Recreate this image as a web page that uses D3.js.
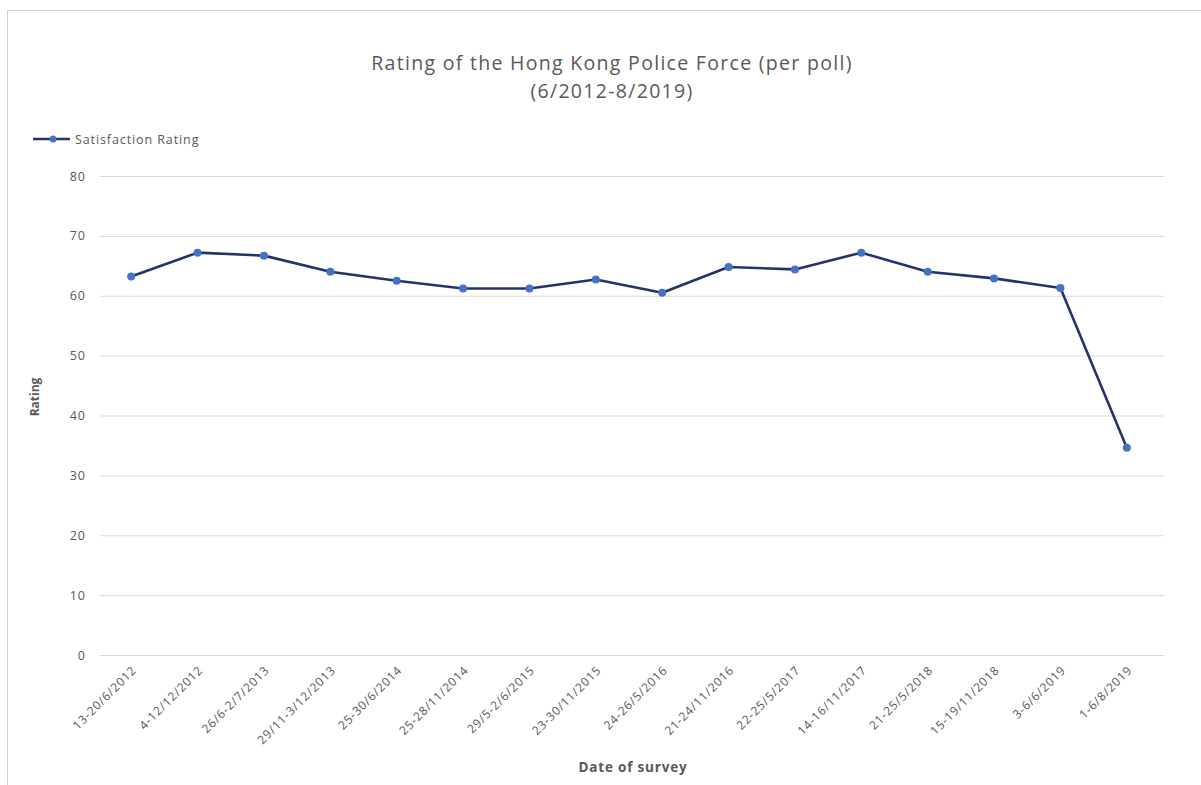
<!DOCTYPE html>
<html><head><meta charset="utf-8">
<script src="https://cdn.jsdelivr.net/npm/d3@7"></script>
<style>
html,body{margin:0;padding:0;background:#fff;}
svg text{font-family:"Open Sans",sans-serif;}
</style></head>
<body><svg id="chart" width="1201" height="785"></svg>
<script>
const categories = ["13-20/6/2012","4-12/12/2012","26/6-2/7/2013","29/11-3/12/2013","25-30/6/2014","25-28/11/2014","29/5-2/6/2015","23-30/11/2015","24-26/5/2016","21-24/11/2016","22-25/5/2017","14-16/11/2017","21-25/5/2018","15-19/11/2018","3-6/6/2019","1-6/8/2019"];
const ratings = [63.2,67.2,66.7,64.0,62.5,61.2,61.2,62.7,60.5,64.8,64.4,67.2,64.0,62.9,61.3,34.6];
const yTicks = [0,10,20,30,40,50,60,70,80];
const seriesName = "Satisfaction Rating";
const titleLines = ["Rating of the Hong Kong Police Force (per poll)","(6/2012-8/2019)"];

(function(){
const svg = d3.select("#chart");
const textColor = "#595959";

// outer chart border
svg.append("rect").attr("x",7.5).attr("y",10.5).attr("width",1210).attr("height",800)
  .attr("fill","none").attr("stroke","#d0d0d0");

const pLeft = 98, pRight = 1160, pTop = 176, pBottom = 655;
const x = d3.scaleBand().domain(categories).range([pLeft,pRight]);
const y = d3.scaleLinear().domain([0,80]).range([pBottom,pTop]);

// title
svg.append("g").selectAll("text").data(titleLines).join("text")
  .attr("x",612).attr("y",(d,i)=>70+i*28).attr("text-anchor","middle")
  .attr("font-size",19.5).attr("letter-spacing",1.3).attr("fill",textColor).text(d=>d);

// gridlines + y axis
const yAxis = d3.axisLeft(y).tickValues(yTicks).tickSize(0).tickPadding(12);
const gy = svg.append("g").attr("transform",`translate(${pLeft},0)`).call(yAxis);
gy.select(".domain").remove();
gy.selectAll(".tick line").attr("stroke","#d9d9d9").attr("stroke-width",1).attr("x1",2).attr("x2",pRight-pLeft+4);
gy.selectAll(".tick text").attr("fill",textColor).attr("font-size",12.5).attr("letter-spacing",1).attr("font-family","Open Sans");

// x axis labels
const xAxis = d3.axisBottom(x).tickSize(0).tickPadding(0);
const gx = svg.append("g").attr("transform",`translate(0,${pBottom})`).call(xAxis);
gx.select(".domain").remove();
gx.selectAll(".tick text").attr("fill",textColor).attr("font-size",12).attr("letter-spacing",0.8).attr("font-family","Open Sans")
  .attr("text-anchor","end").attr("dy",0)
  .attr("transform","translate(6,16) rotate(-45)");

// axis titles
svg.append("text").attr("transform","translate(39,397) rotate(-90)").attr("text-anchor","middle")
  .attr("font-size",12).attr("font-weight","bold").attr("fill",textColor).text("Rating");
svg.append("text").attr("x",633).attr("y",772).attr("text-anchor","middle")
  .attr("font-size",13.5).attr("letter-spacing",0.8).attr("font-weight","bold").attr("fill",textColor).text("Date of survey");

// line
const lineColor = "#26336b", markerColor = "#4472c4";
const line = d3.line().x((d,i)=>x(categories[i])+x.bandwidth()/2).y(d=>y(d));
svg.append("path").datum(ratings).attr("d",line).attr("fill","none")
  .attr("stroke",lineColor).attr("stroke-width",2.6).attr("stroke-linejoin","round");
svg.append("g").selectAll("circle").data(ratings).join("circle")
  .attr("cx",(d,i)=>x(categories[i])+x.bandwidth()/2).attr("cy",d=>y(d)).attr("r",4)
  .attr("fill",markerColor);

// legend
const lg = svg.append("g").attr("transform","translate(33,139)");
lg.append("line").attr("x1",0).attr("x2",37).attr("y1",0).attr("y2",0).attr("stroke",lineColor).attr("stroke-width",2.6);
lg.append("circle").attr("cx",20).attr("cy",0).attr("r",3.5).attr("fill",markerColor);
lg.append("text").attr("x",42).attr("y",4.5).attr("font-size",12.5).attr("letter-spacing",0.9).attr("fill",textColor).text(seriesName);
})();
</script></body></html>
